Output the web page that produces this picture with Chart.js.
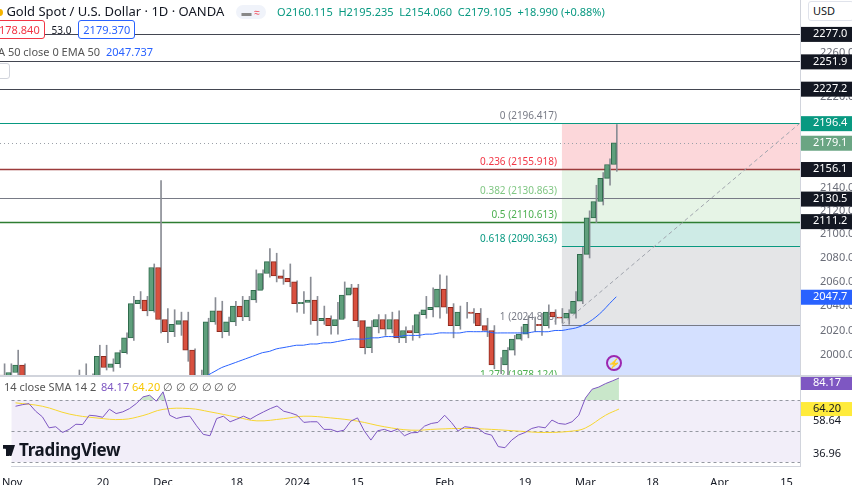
<!DOCTYPE html>
<html>
<head>
<meta charset="utf-8">
<script src="https://cdn.jsdelivr.net/npm/chart.js@4.4.1/dist/chart.umd.min.js"></script>
<style>
  body { margin: 0; width: 852px; height: 485px; overflow: hidden; background: #fff; font-family: 'Noto Sans', sans-serif; position: relative; }
  #main { position: absolute; left: 0; top: 0; width: 852px; height: 375px; }
  #rsi { position: absolute; left: 0; top: 376px; width: 852px; height: 109px; }
  .sep { position: absolute; background: #d1d4dc; }
  .t { position: absolute; white-space: nowrap; color: #131722; }
</style>
</head>
<body>
<div id="main"><canvas id="mainChart"></canvas></div>
<div id="rsi"><canvas id="rsiChart"></canvas></div>
<div class="sep" style="left:0;top:375px;width:852px;height:2px"></div>

<div class="t" style="left:-4px;top:2px;font-size:13px">
  <span style="display:inline-block;width:7px;height:7px;border-radius:50%;background:#f5b400;vertical-align:middle"></span>
  Gold Spot / U.S. Dollar · 1D · OANDA
  <span style="display:inline-block;margin-left:8px;padding:0 6px;border-radius:8px;background:#f0f3fa;font-size:10px;color:#888">▬ <span style="color:#f23645">≈</span></span>
  <span style="margin-left:8px;font-size:11px;color:#089981">O2160.115&nbsp; H2195.235&nbsp; L2154.060&nbsp; C2179.105&nbsp; +18.990 (+0.88%)</span>
</div>
<div class="t" style="left:-6px;top:22px;font-size:11px">
  <span style="border:1px solid #f23645;color:#f23645;padding:1px 4px;border-radius:3px;background:#fff">178.840</span>
  <span style="margin:0 4px;font-size:10px">53.0</span>
  <span style="border:1px solid #2962ff;color:#2962ff;padding:1px 4px;border-radius:3px;background:#fff">2179.370</span>
</div>
<div class="t" style="left:-2px;top:44px;font-size:11px;color:#555">A 50 close 0 EMA 50 <span style="color:#2962ff;margin-left:3px">2047.737</span></div>
<div style="position:absolute;left:-4px;top:63px;width:12px;height:14px;border:1px solid #d1d4dc;border-radius:3px;background:#fff"></div>
<div class="t" style="left:808px;top:1px;width:40px;height:18px;border:1px solid #e0e3eb;border-radius:3px;font-size:11px;line-height:18px;padding-left:4px;background:#fff">USD</div>

<div class="t" style="left:4px;top:379px;font-size:11px;color:#555">14 close SMA 14 2 <span style="color:#7e57c2;margin-left:2px">84.17</span> <span style="color:#f7c600">64.20</span> ∅ ∅ ∅ ∅ ∅ ∅</div>
<div class="t" style="left:3px;top:438px;font-size:17px;font-weight:700;letter-spacing:-0.3px">
  <span style="display:inline-block;width:12px;height:11px;background:#131722;margin-right:4px;clip-path:polygon(0 0,55% 0,55% 100%,25% 100%,25% 35%,0 35%,0 0,60% 0,100% 0,70% 100%,60% 100%)"></span>TradingView
</div>
<div style="position:absolute;left:606px;top:355px;width:16px;height:16px;border-radius:50%;border:2px solid #9c27b0;box-sizing:border-box;color:#9c27b0;font-size:10px;line-height:12px;text-align:center">⚡</div>

<script>
// bar index 0 = Nov 1 2023, last bar 90 = Mar 8 2024
const opens  = [1984,1983,1986,1992,1978,1969,1950,1958,1940,1946,1963,1959,1981,1981,1978,1999,1990,1993,2002,2014,2042,2045,2036,2072,2029,2019,2025,2028,2004,1982,1979,2027,2036,2019,2027,2040,2031,2045,2053,2067,2077,2065,2063,2060,2042,2043,2045,2028,2030,2024,2029,2049,2055,2028,2006,2023,2029,2021,2029,2014,2020,2018,2033,2037,2039,2054,2039,2024,2035,2035,2034,2024,2020,1992,1992,2004,2013,2017,2025,2025,2024,2035,2031,2030,2034,2044,2083,2114,2128,2148,2160];
const highs  = [1993,1993,2004,1993,1980,1971,1965,1960,1950,1970,1965,1988,1993,1985,2008,2008,1997,2004,2018,2048,2052,2048,2075,2146,2038,2037,2035,2035,2005,1988,2030,2047,2044,2031,2044,2048,2048,2070,2070,2088,2084,2070,2075,2061,2052,2064,2048,2040,2032,2043,2060,2058,2058,2028,2028,2033,2033,2035,2036,2023,2024,2035,2048,2055,2066,2065,2042,2040,2043,2038,2038,2030,2024,1998,2006,2016,2023,2032,2031,2034,2041,2037,2038,2037,2052,2089,2120,2142,2153,2165,2195.2];
const lows   = [1970,1978,1983,1975,1962,1946,1947,1930,1935,1942,1955,1956,1978,1973,1976,1988,1987,1990,2001,2012,2038,2032,2035,2018,2010,2015,2016,1995,1976,1973,1977,2025,2014,2016,2024,2028,2028,2043,2054,2064,2060,2058,2056,2035,2034,2025,2016,2025,2017,2017,2030,2050,2023,2001,2002,2018,2016,2018,2010,2010,2012,2014,2030,2031,2030,2034,2014,2021,2030,2026,2024,2015,1989,1985,1984,2000,2012,2014,2019,2016,2022,2025,2026,2025,2030,2042,2080,2110,2125,2142,2154.1];
const closes = [1983,1986,1992,1978,1969,1950,1958,1940,1946,1963,1959,1981,1981,1978,1999,1990,1993,2002,2014,2042,2045,2036,2072,2029,2019,2025,2028,2004,1982,1979,2027,2036,2019,2027,2040,2031,2045,2053,2067,2077,2065,2063,2060,2042,2043,2045,2028,2030,2024,2029,2049,2055,2028,2006,2023,2029,2021,2029,2014,2020,2018,2033,2037,2039,2054,2039,2024,2035,2035,2034,2024,2020,1992,1992,2004,2013,2017,2025,2025,2024,2035,2031,2030,2034,2044,2083,2114,2128,2148,2160,2179.1];
const ema50  = [null,null,null,null,null,null,null,null,null,null,null,null,null,null,null,null,null,null,null,null,null,null,null,null,null,null,null,null,null,null,1984,1987,1990,1992,1994,1996,1998,2000,2002,2003,2005,2006,2007,2008,2008,2009,2009,2010,2010,2011,2012,2013,2013,2013,2014,2014,2015,2015,2015,2016,2016,2016,2017,2017,2018,2018,2018,2018,2019,2019,2019,2019,2018,2018,2018,2018,2018,2018,2019,2019,2019,2020,2020,2021,2022,2024,2027,2031,2036,2042,2047.7];
const rsi    = [66,67,67.7,62.8,59.2,52.1,52.8,49.1,51.1,54.4,54.2,60.2,59.8,58.9,64.1,61.3,62.4,64.5,67.7,72,73.1,69.3,75.3,60.2,58.1,59.2,59.6,53.4,47.9,47,58.1,59.6,56,57.7,59.6,57.7,60.2,62.4,64.5,66.2,62.8,61.7,60.2,55.6,56,56,51.1,51.1,49.6,50.6,56.4,58.5,50.2,44.2,50.2,51.1,49.6,51.3,47,48.9,49.1,53.2,54.9,55.6,60.2,55.6,50,52.8,52.3,51.7,48.5,47.4,40,39.3,44.2,47.4,49.1,51.7,52.8,52.1,57.1,54.9,54.4,56,60.2,71.3,77,78.4,80.6,82.3,84.17];
const rsiSmaIdx = [0,4,8,12,16,19,22,26,29,33,36,40,43,47,51,55,59,63,67,71,75,79,83,85,88,90];
const rsiSma    = [68.2,66,61,58.5,57.5,60,64,64.5,62.4,59,56.6,58,59.6,58.5,56.4,52.8,50.6,51.3,51.7,51.1,50,49.1,50,52,60.2,64.2];

const xTickIdx    = [-0.5,13,22,33,42,51,64,76,85,95,105,115];
const xTickLabels = ['Nov','20','Dec','18','2024','15','Feb','19','Mar','18','Apr','15'];
const yTickVals   = [2000,2020,2040,2060,2080,2100,2120,2140,2220,2260];

const fibLevels = [0,0.236,0.382,0.5,0.618,1,1.272];
const fibPrices = [2196.417,2155.918,2130.863,2110.613,2090.363,2024.808,1978.124];
const fibStartIdx = 82;
const trendIdx   = [82,117];
const trendPrice = [2024.808,2196.417];

const blackLines  = [2277.0,2251.9,2227.2];
const priceTags   = [2277.0,2251.9,2227.2,2196.4,2179.1,2156.1,2130.5,2111.2,2047.7];
const tagColors   = ['#131722','#131722','#131722','#089981','#6aa583','#131722','#131722','#131722','#2962ff'];
const rsiTags     = [84.17,64.20];
const rsiAxisVals = [58.64,36.96];

const X_MIN = -0.6, X_MAX = 117;
const up = '#5f9f7c', upB = '#2f6b4c', dn = '#d9503f', dnB = '#8c2a1f';
const isUp = closes.map((c, i) => c >= opens[i]);

const overlay = {
  id: 'overlay',
  beforeDatasetsDraw(chart) {
    const { ctx, chartArea: a, scales: { x, y } } = chart;
    const x0 = x.getPixelForValue(fibStartIdx), x1 = a.right;
    const fills = ['rgba(242,54,69,0.2)','rgba(76,175,80,0.14)','rgba(76,175,80,0.14)','rgba(8,153,129,0.2)','rgba(120,123,134,0.2)','rgba(41,98,255,0.2)'];
    ctx.save();
    ctx.beginPath(); ctx.rect(a.left, a.top, a.right - a.left, a.bottom - a.top); ctx.clip();
    for (let i = 0; i < fills.length; i++) {
      const ya = y.getPixelForValue(fibPrices[i]), yb = y.getPixelForValue(fibPrices[i + 1]);
      ctx.fillStyle = fills[i];
      ctx.fillRect(x0, ya, x1 - x0, yb - ya);
    }
    const fibLineColors = ['#787b86','#f23645','#81c784','#4caf50','#089981','#787b86','#2962ff'];
    fibPrices.forEach((p, i) => {
      const py = Math.round(y.getPixelForValue(p)) + 0.5;
      ctx.strokeStyle = fibLineColors[i]; ctx.lineWidth = 1;
      ctx.beginPath(); ctx.moveTo(x0, py); ctx.lineTo(x1, py); ctx.stroke();
    });
    const full = [[2196.417,'#089981',1],[2155.918,'#9c3b3b',1.5],[2130.863,'#787b86',1],[2110.613,'#2e7d32',1.5]];
    blackLines.forEach(p => full.push([p,'#434651',1]));
    full.forEach(([p, c, w]) => {
      const py = Math.round(y.getPixelForValue(p)) + 0.5;
      ctx.strokeStyle = c; ctx.lineWidth = w;
      ctx.beginPath(); ctx.moveTo(a.left, py); ctx.lineTo(a.right, py); ctx.stroke();
    });
    const cp = Math.round(y.getPixelForValue(closes[closes.length - 1])) + 0.5;
    ctx.setLineDash([1, 3]); ctx.strokeStyle = '#9aa0a8';
    ctx.beginPath(); ctx.moveTo(a.left, cp); ctx.lineTo(a.right, cp); ctx.stroke();
    ctx.setLineDash([]);
    ctx.font = '10px "Noto Sans"'; ctx.textAlign = 'right'; ctx.textBaseline = 'bottom';
    const labCol = ['#787b86','#f23645','#81c784','#4caf50','#089981','#787b86','#4caf50'];
    fibLevels.forEach((l, i) => {
      ctx.fillStyle = labCol[i];
      ctx.fillText(l + ' (' + fibPrices[i].toFixed(3) + ')', x0 - 5, y.getPixelForValue(fibPrices[i]) - 2);
    });
    ctx.restore();
  },
  afterDraw(chart) {
    const { ctx, chartArea: a, scales: { y } } = chart;
    ctx.save();
    ctx.font = '11px "Noto Sans"'; ctx.textBaseline = 'middle'; ctx.textAlign = 'left';
    priceTags.forEach((p, i) => {
      const py = y.getPixelForValue(p);
      ctx.fillStyle = tagColors[i];
      ctx.fillRect(a.right + 1, py - 7, 60, 15);
      ctx.fillStyle = '#fff';
      ctx.fillText(p.toFixed(1), a.right + 13, py);
    });
    ctx.restore();
  }
};

new Chart(document.getElementById('mainChart'), {
  data: {
    datasets: [
      { type: 'line', data: trendIdx.map((v, i) => ({ x: v, y: trendPrice[i] })), borderColor: '#a0a4ad', borderWidth: 1, borderDash: [4, 3], pointRadius: 0, order: 3 },
      { type: 'bar', data: highs.map((h, i) => ({ x: i, y: [lows[i], h] })), backgroundColor: '#8a8d95', barThickness: 1, order: 2 },
      { type: 'bar', data: opens.map((o, i) => ({ x: i, y: [o, closes[i]] })),
        backgroundColor: isUp.map(u => u ? up : dn), borderColor: isUp.map(u => u ? upB : dnB),
        borderWidth: 1, borderSkipped: false, barThickness: 5, order: 1 },
      { type: 'line', data: ema50.map((v, i) => ({ x: i, y: v })), borderColor: '#2962ff', borderWidth: 1, pointRadius: 0, order: 0, tension: 0.3 }
    ]
  },
  options: {
    responsive: true, maintainAspectRatio: false, animation: false,
    layout: { padding: 0 },
    plugins: { legend: { display: false }, tooltip: { enabled: false } },
    scales: {
      x: { type: 'linear', min: X_MIN, max: X_MAX, display: false, offset: false, grid: { display: false } },
      y: {
        type: 'logarithmic', position: 'right', min: 1984, max: 2308.4,
        afterFit: s => { s.width = 52; s.paddingTop = 0; s.paddingBottom = 0; },
        afterBuildTicks: s => { s.ticks = yTickVals.map(v => ({ value: v })); },
        grid: { display: false }, border: { color: '#d1d4dc' },
        ticks: { padding: 12, color: '#6a6d78', font: { size: 11, family: 'Noto Sans' }, callback: v => Number(v).toFixed(1) }
      }
    }
  },
  plugins: [overlay]
});

const rsiOverlay = {
  id: 'rsiOverlay',
  beforeDatasetsDraw(chart) {
    const { ctx, chartArea: a, scales: { y } } = chart;
    ctx.save();
    const y70 = y.getPixelForValue(70), y30 = y.getPixelForValue(30), y50 = y.getPixelForValue(50);
    ctx.fillStyle = 'rgba(126,87,194,0.1)';
    ctx.fillRect(a.left, y70, a.right - a.left, y30 - y70);
    ctx.strokeStyle = '#9598a1'; ctx.setLineDash([3, 3]); ctx.lineWidth = 1;
    [y70, y50, y30].forEach(py => { ctx.beginPath(); ctx.moveTo(a.left, Math.round(py) + 0.5); ctx.lineTo(a.right, Math.round(py) + 0.5); ctx.stroke(); });
    ctx.restore();
  },
  afterDraw(chart) {
    const { ctx, chartArea: a, scales: { y } } = chart;
    ctx.save();
    ctx.font = '11px "Noto Sans"'; ctx.textBaseline = 'middle'; ctx.textAlign = 'left';
    ctx.fillStyle = '#131722';
    rsiAxisVals.forEach(v => ctx.fillText(v.toFixed(2), a.right + 13, y.getPixelForValue(v) + 3));
    const cols = ['#7e57c2', '#ffeb3b'], txt = ['#fff', '#131722'];
    rsiTags.forEach((v, i) => {
      const py = Math.max(y.getPixelForValue(v), a.top + 7);
      ctx.fillStyle = cols[i]; ctx.fillRect(a.right + 1, py - 7, 60, 14);
      ctx.fillStyle = txt[i]; ctx.fillText(v.toFixed(2), a.right + 13, py);
    });
    ctx.restore();
  }
};

new Chart(document.getElementById('rsiChart'), {
  data: {
    datasets: [
      { type: 'line', data: rsi.map((v, i) => ({ x: i, y: v })), borderColor: '#7e57c2', borderWidth: 1, pointRadius: 0,
        fill: { target: { value: 70 }, above: 'rgba(76,175,80,0.3)', below: 'rgba(0,0,0,0)' } },
      { type: 'line', data: rsiSmaIdx.map((v, i) => ({ x: v, y: rsiSma[i] })), borderColor: '#f7d631', borderWidth: 1, pointRadius: 0, tension: 0.4 }
    ]
  },
  options: {
    responsive: true, maintainAspectRatio: false, animation: false,
    layout: { padding: 0 },
    plugins: { legend: { display: false }, tooltip: { enabled: false } },
    scales: {
      x: {
        type: 'linear', min: X_MIN, max: X_MAX, grid: { display: false }, border: { color: '#d1d4dc' },
        afterFit: s => { s.height = 19; },
        afterBuildTicks: s => { s.ticks = xTickIdx.map(v => ({ value: v })); },
        ticks: { autoSkip: false, maxRotation: 0, padding: 2, color: '#131722', font: { size: 11, family: 'Noto Sans' },
          callback: (v, i) => xTickLabels[i] }
      },
      y: {
        position: 'right', min: 27.5, max: 85.5,
        afterFit: s => { s.width = 52; },
        grid: { display: false }, border: { color: '#d1d4dc' },
        ticks: { display: false }
      }
    }
  },
  plugins: [rsiOverlay]
});
</script>
</body>
</html>
